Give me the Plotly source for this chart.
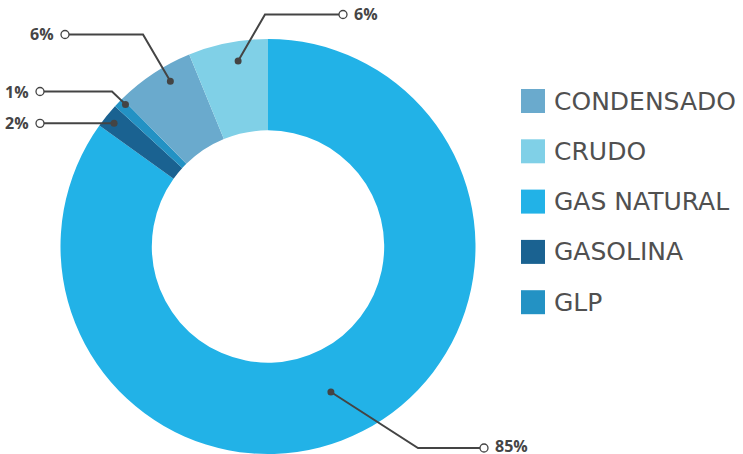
import math
import plotly.graph_objects as go

# ---------------- data ----------------
LABELS = ["CONDENSADO", "CRUDO", "GAS NATURAL", "GASOLINA", "GLP"]
VALUES = [6.2, 6.2, 84.9, 1.9, 0.8]
# order of slices, clockwise from 12 o'clock
SLICE_ORDER = ["GAS NATURAL", "GASOLINA", "GLP", "CONDENSADO", "CRUDO"]

# ---------------- styles ----------------
COLORS = {
    "CONDENSADO": "#6aaacd",
    "CRUDO": "#80d0e7",
    "GAS NATURAL": "#22b2e7",
    "GASOLINA": "#1a6291",
    "GLP": "#2392c4",
}
W, H = 743, 454
PIE_X = (60, 476)      # pixel span of pie domain
PIE_Y = (39, 454)
HOLE = 0.56
LINE_C = "#444444"
TEXT_C = "#454545"
LEG_C = "#505050"

# leader line layout: radial fraction & angle nudge (deg) for dot, elbow (px), end x (px), text side
LEADERS = {
    "CRUDO":       dict(rf=0.905, da=2.0, elbow=(265, 14.5), endx=343, side="left"),
    "CONDENSADO":  dict(rf=0.925, da=2.9, elbow=(143, 34.5), endx=65, side="right"),
    "GLP":         dict(rf=0.97, da=1.0, elbow=(112, 91.5), endx=40, side="right"),
    "GASOLINA":    dict(rf=0.95, da=-0.4, elbow=None, endx=40, side="right"),
    "GAS NATURAL": dict(rf=0.764, da=3.8, elbow=(418, 448), endx=484, side="left"),
}

val = dict(zip(LABELS, VALUES))
ordered_vals = [val[l] for l in SLICE_ORDER]

fig = go.Figure(go.Pie(
    labels=SLICE_ORDER,
    values=ordered_vals,
    sort=False,
    direction="clockwise",
    rotation=0,
    hole=HOLE,
    marker=dict(colors=[COLORS[l] for l in SLICE_ORDER], line=dict(width=0)),
    textinfo="none",
    hoverinfo="label+percent",
    showlegend=False,
    domain=dict(x=[PIE_X[0] / W, PIE_X[1] / W], y=[1 - PIE_Y[1] / H, 1 - PIE_Y[0] / H]),
))

def px(x):
    return x / W

def py(y):
    return 1 - y / H

cx = (PIE_X[0] + PIE_X[1]) / 2
cy = (PIE_Y[0] + PIE_Y[1]) / 2
R = min(PIE_X[1] - PIE_X[0], PIE_Y[1] - PIE_Y[0]) / 2

shapes = []
annotations = []
total = sum(ordered_vals)
cum = 0.0
for lab, v in zip(SLICE_ORDER, ordered_vals):
    mid = (cum + v / 2) / total
    cum += v
    cfg = LEADERS[lab]
    th = 2 * math.pi * mid + math.radians(cfg["da"])
    r = R * cfg["rf"]
    dx, dy = cx + r * math.sin(th), cy - r * math.cos(th)
    if cfg["elbow"] is None:
        ex, ey = dx, dy
    else:
        ex, ey = cfg["elbow"]
    endx = cfg["endx"]
    path = f"M {px(dx)} {py(dy)} L {px(ex)} {py(ey)} L {px(endx)} {py(ey)}"
    shapes.append(dict(type="path", xref="paper", yref="paper", path=path,
                       line=dict(color=LINE_C, width=2), layer="above"))
    rd = 3.5
    shapes.append(dict(type="circle", xref="paper", yref="paper",
                       x0=px(dx - rd), x1=px(dx + rd), y0=py(dy + rd), y1=py(dy - rd),
                       fillcolor=LINE_C, line=dict(width=0), layer="above"))
    rc = 4
    shapes.append(dict(type="circle", xref="paper", yref="paper",
                       x0=px(endx - rc), x1=px(endx + rc), y0=py(ey + rc), y1=py(ey - rc),
                       fillcolor="white", line=dict(color=LINE_C, width=1.3), layer="above"))
    if cfg["side"] == "left":
        tx, anchor = endx + rc + 5, "left"
    else:
        tx, anchor = endx - rc - 5, "right"
    ty = min(ey, 446)
    annotations.append(dict(x=px(tx), y=py(ty), xref="paper", yref="paper",
                            text=f"<b>{round(v)}%</b>", showarrow=False,
                            xanchor=anchor, yanchor="middle",
                            font=dict(family="Open Sans", size=16, color=TEXT_C)))

# legend (manual, alphabetical)
LEG_X = 521
LEG_Y0 = 101
LEG_STEP = 50.3
SQ = 24
for i, lab in enumerate(LABELS):
    yc = LEG_Y0 + i * LEG_STEP
    shapes.append(dict(type="rect", xref="paper", yref="paper",
                       x0=px(LEG_X), x1=px(LEG_X + SQ), y0=py(yc + SQ / 2), y1=py(yc - SQ / 2),
                       fillcolor=COLORS[lab], line=dict(width=0), layer="above"))
    annotations.append(dict(x=px(LEG_X + SQ + 7), y=py(yc), xref="paper", yref="paper",
                            text=lab, showarrow=False, xanchor="left", yanchor="middle",
                            font=dict(family="DejaVu Sans", size=25, color=LEG_C)))

fig.update_layout(
    width=W, height=H,
    margin=dict(l=0, r=0, t=0, b=0),
    paper_bgcolor="white",
    plot_bgcolor="white",
    shapes=shapes,
    annotations=annotations,
)

fig.write_html("out.html",
               config={"displayModeBar": False},
               post_script="document.body.style.margin='0';document.body.style.overflow='hidden';")
